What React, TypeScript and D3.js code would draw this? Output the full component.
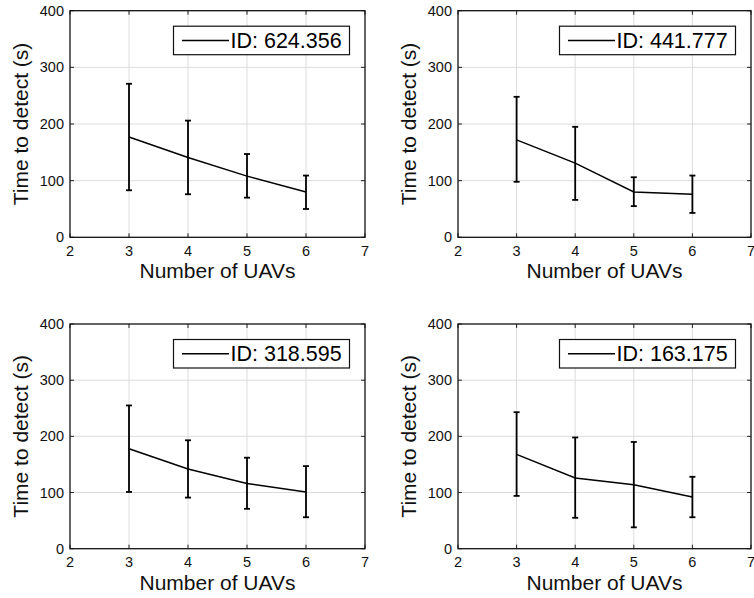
import React from "react";
import * as d3 from "d3";

const uavCounts = [3, 4, 5, 6];
const panelIds = ["ID: 624.356", "ID: 441.777", "ID: 318.595", "ID: 163.175"];
const meanTimes = [
  [177, 141, 108, 80],
  [172, 131, 80, 76],
  [178, 142, 116, 101],
  [168, 126, 114, 92],
];
const upperBounds = [
  [271, 206, 147, 109],
  [248, 195, 106, 109],
  [255, 193, 162, 147],
  [243, 198, 190, 128],
];
const lowerBounds = [
  [83, 76, 70, 50],
  [98, 66, 55, 43],
  [101, 91, 71, 56],
  [94, 55, 38, 56],
];
const xTicks = [2, 3, 4, 5, 6, 7];
const yTicks = [0, 100, 200, 300, 400];

const W = 754;
const H = 598;
const FONT = "'Liberation Sans', Arial, Helvetica, sans-serif";

// plot-area boxes for the 2x2 grid
const cols = [
  { x0: 70, x1: 365 },
  { x0: 458, x1: 751 },
];
const rows = [
  { y0: 10.7, y1: 237.3 },
  { y0: 324, y1: 548.7 },
];

const Panel = ({ idx }: { idx: number }) => {
  const c = cols[idx % 2];
  const r = rows[Math.floor(idx / 2)];
  const x = d3.scaleLinear().domain([2, 7]).range([c.x0, c.x1]);
  const y = d3.scaleLinear().domain([0, 400]).range([r.y1, r.y0]);
  const pts = uavCounts.map((u, i) => ({
    u,
    m: meanTimes[idx][i],
    hi: upperBounds[idx][i],
    lo: lowerBounds[idx][i],
  }));
  const line = d3
    .line<{ u: number; m: number }>()
    .x((d) => x(d.u))
    .y((d) => y(d.m));
  const tick = 4;
  const cap = 3;
  const legW = 176;
  const legH = 28.5;
  const legX = c.x1 - 15.5 - legW;
  const legY = r.y0 + 15.5;
  const midX = (c.x0 + c.x1) / 2;
  const midY = (r.y0 + r.y1) / 2;

  return (
    <g fontFamily={FONT}>
      {/* grid */}
      {xTicks.slice(1, -1).map((t) => (
        <line key={"gx" + t} x1={x(t)} x2={x(t)} y1={r.y0} y2={r.y1} stroke="#dcdcdc" strokeWidth={1} />
      ))}
      {yTicks.slice(1, -1).map((t) => (
        <line key={"gy" + t} x1={c.x0} x2={c.x1} y1={y(t)} y2={y(t)} stroke="#dcdcdc" strokeWidth={1} />
      ))}
      {/* ticks, inward on all sides */}
      {xTicks.map((t) => (
        <g key={"tx" + t}>
          <line x1={x(t)} x2={x(t)} y1={r.y1} y2={r.y1 - tick} stroke="#222" />
          <line x1={x(t)} x2={x(t)} y1={r.y0} y2={r.y0 + tick} stroke="#222" />
          <text x={x(t)} y={r.y1 + 18.5} textAnchor="middle" fontSize={14.5} fill="#111">
            {t}
          </text>
        </g>
      ))}
      {yTicks.map((t) => (
        <g key={"ty" + t}>
          <line x1={c.x0} x2={c.x0 + tick} y1={y(t)} y2={y(t)} stroke="#222" />
          <line x1={c.x1} x2={c.x1 - tick} y1={y(t)} y2={y(t)} stroke="#222" />
          <text x={c.x0 - 6} y={y(t) + 5} textAnchor="end" fontSize={14.5} fill="#111">
            {t}
          </text>
        </g>
      ))}
      {/* box */}
      <rect x={c.x0} y={r.y0} width={c.x1 - c.x0} height={r.y1 - r.y0} fill="none" stroke="#111" strokeWidth={1.3} />
      {/* error bars */}
      {pts.map((p) => (
        <g key={"e" + p.u} stroke="#000" strokeWidth={1.8}>
          <line x1={x(p.u)} x2={x(p.u)} y1={y(p.hi)} y2={y(p.lo)} />
          <line x1={x(p.u) - cap} x2={x(p.u) + cap} y1={y(p.hi)} y2={y(p.hi)} />
          <line x1={x(p.u) - cap} x2={x(p.u) + cap} y1={y(p.lo)} y2={y(p.lo)} />
        </g>
      ))}
      <path d={line(pts) || ""} fill="none" stroke="#000" strokeWidth={1.5} />
      {/* legend */}
      <rect x={legX} y={legY} width={legW} height={legH} fill="#fff" stroke="#111" strokeWidth={1.2} />
      <line x1={legX + 8.5} x2={legX + 55.5} y1={legY + legH / 2} y2={legY + legH / 2} stroke="#000" strokeWidth={1.5} />
      <text x={legX + 57} y={legY + legH / 2 + 7.5} fontSize={21.5} fill="#000">
        {panelIds[idx]}
      </text>
      {/* axis labels */}
      <text x={midX} y={r.y1 + 41} textAnchor="middle" fontSize={21} fill="#111">
        Number of UAVs
      </text>
      <text
        transform={`translate(${c.x0 - 42},${midY}) rotate(-90)`}
        textAnchor="middle"
        fontSize={21}
        fill="#111"
      >
        Time to detect (s)
      </text>
    </g>
  );
};

export default function App() {
  return (
    <svg
      width={W}
      height={H}
      style={{ position: "absolute", left: 0, top: 0, background: "#fff", display: "block" }}
    >
      <rect width={W} height={H} fill="#fff" />
      {panelIds.map((_, i) => (
        <Panel key={i} idx={i} />
      ))}
    </svg>
  );
}
